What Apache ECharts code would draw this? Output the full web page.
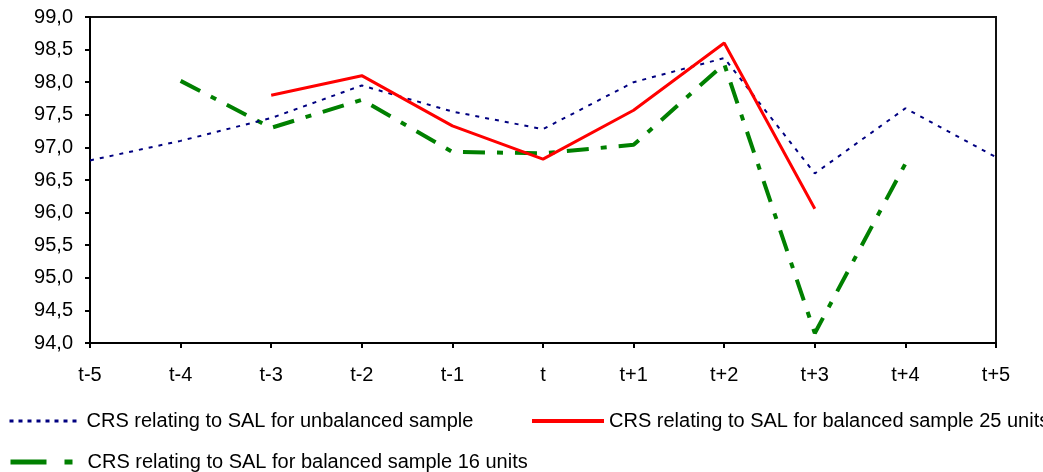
<!DOCTYPE html>
<html>
<head>
<meta charset="utf-8">
<script src="https://cdn.jsdelivr.net/npm/echarts@6/dist/echarts.min.js"></script>
<style>
  html, body { margin: 0; padding: 0; background: #fff; }
  #chart { width: 1043px; height: 472px; }
</style>
</head>
<body>
<div id="chart"></div>
<script>
  // categories
  var periods = ['t-5', 't-4', 't-3', 't-2', 't-1', 't', 't+1', 't+2', 't+3', 't+4', 't+5'];
  // series values
  var unbalanced = [96.8, 97.1, 97.45, 97.95, 97.55, 97.28, 98.0, 98.37, 96.6, 97.6, 96.85];
  var balanced25 = [null, null, 97.8, 98.1, 97.33, 96.82, 97.57, 98.6, 96.06, null, null];
  var balanced16 = [null, 98.02, 97.3, 97.73, 96.93, 96.91, 97.04, 98.28, 94.15, 96.75, null];
  var seriesNames = [
    'CRS relating to SAL for unbalanced sample',
    'CRS relating to SAL for balanced sample 25 units',
    'CRS relating to SAL for balanced sample 16 units'
  ];

  var font = 'Liberation Sans, Arial, sans-serif';
  var myChart = echarts.init(document.getElementById('chart'));

  function legendAt(name, left, top, style){
    return {
      data: [name],
      left: left,
      top: top,
      itemWidth: 72,
      itemHeight: 12,
      selectedMode: false,
      itemStyle: { opacity: 0 },
      textStyle: { fontFamily: font, fontSize: 20, color: '#000' },
      lineStyle: style
    }
  }

  var chartOption = {
    animation: false,
    backgroundColor: '#fff',
    grid: {
      left: 90, right: 47, top: 17, bottom: 129,
      show: true,
      borderColor: '#111',
      borderWidth: 2
    },
    legend: [
      legendAt(seriesNames[0], 3, 406, { color: '#000080', width: 3, type: [4, 5] }),
      legendAt(seriesNames[1], 525, 406, { color: '#ff0000', width: 4, type: 'solid' }),
      legendAt(seriesNames[2], 3, 447, { color: '#008000', width: 5, type: [36, 18, 8, 14] })
    ],
    xAxis: {
      type: 'category',
      data: periods,
      boundaryGap: false,
      axisLine: { lineStyle: { color: '#000', width: 2 } },
      axisTick: { show: true, length: 5, interval: 0, lineStyle: { color: '#000', width: 2 } },
      axisLabel: { interval: 0, margin: 22, fontFamily: font, fontSize: 20, color: '#000' },
      splitLine: { show: false }
    },
    yAxis: {
      type: 'value',
      min: 94,
      max: 99,
      interval: 0.5,
      axisLine: { show: true, lineStyle: { color: '#000', width: 2 } },
      axisTick: { show: true, length: 5, lineStyle: { color: '#000', width: 2 } },
      axisLabel: {
        margin: 17,
        fontFamily: font, fontSize: 20, color: '#000',
        formatter: function(v){ return v.toFixed(1).replace('.', ',') }
      },
      splitLine: { show: false }
    },
    series: [
      {
        name: seriesNames[0],
        type: 'line',
        data: unbalanced,
        symbol: 'none',
        lineStyle: { color: '#000080', width: 2, type: [4, 6] },
        itemStyle: { color: '#000080' },
        z: 3
      },
      {
        name: seriesNames[1],
        type: 'line',
        data: balanced25,
        symbol: 'none',
        lineStyle: { color: '#ff0000', width: 3 },
        itemStyle: { color: '#ff0000' },
        z: 4
      },
      {
        name: seriesNames[2],
        type: 'line',
        data: balanced16,
        symbol: 'none',
        lineStyle: { color: '#008000', width: 4, type: [22, 12, 6, 12] },
        itemStyle: { color: '#008000' },
        z: 2
      }
    ]
  };
  myChart.setOption(chartOption);
</script>
</body>
</html>
